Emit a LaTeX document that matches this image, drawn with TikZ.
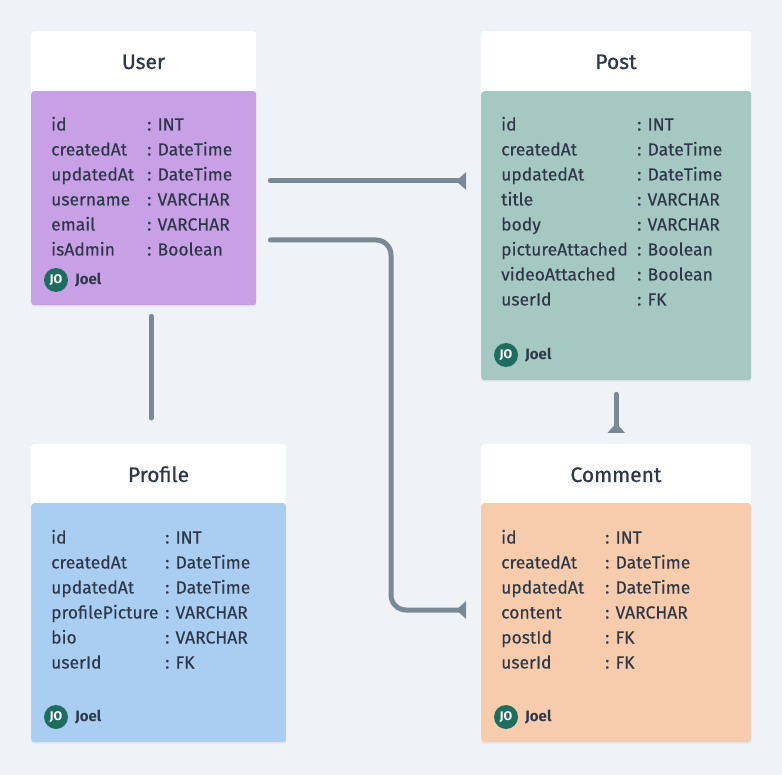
\documentclass[tikz,border=0pt]{standalone}
\usepackage{fontspec}
\setmainfont{Fira Sans}
\newfontfamily\titlefont{Fira Sans}[FakeBold=0.7]
\newfontfamily\fieldfont{Fira Sans}[FakeBold=0.25]
\usetikzlibrary{arrows.meta,calc,shadows}

\definecolor{mybg}{RGB}{239,243,247}
\definecolor{myink}{RGB}{45,55,72}
\definecolor{mylink}{RGB}{122,137,150}
\definecolor{myavatar}{RGB}{30,110,95}
\definecolor{userc}{RGB}{200,160,230}
\definecolor{postc}{RGB}{166,200,194}
\definecolor{profc}{RGB}{170,206,242}
\definecolor{commc}{RGB}{246,204,172}

\begin{document}
\begin{tikzpicture}[x=1pt,y=-1pt,
  card/.style={fill=white,rounded corners=3pt,anchor=north west,inner sep=0pt,
               drop shadow={shadow xshift=0pt,shadow yshift=-1.5pt,opacity=0.12}},
  body/.style={rounded corners=3pt,anchor=north west,inner sep=0pt},
  head/.style={anchor=base,inner sep=0pt,text=myink,font=\titlefont\fontsize{21}{21}\selectfont},
  field/.style={anchor=base west,inner sep=0pt,text=myink,font=\fieldfont\fontsize{17.5}{17.5}\selectfont},
  avatar/.style={circle,fill=myavatar,minimum size=24pt,inner sep=0pt,text=white,
                 font=\fontsize{12.5}{12.5}\selectfont\bfseries},
  author/.style={anchor=west,inner sep=0pt,text=myink,font=\fontsize{15}{15}\selectfont\bfseries},
  link/.style={draw=mylink,line width=5pt,line cap=round},
  tip/.style={-{Triangle[reversed,length=10pt,width=17pt]}}
]
\def\rowh{25}
  \fill[mybg] (0,0) rectangle (782,775);
  \useasboundingbox (0,0) rectangle (782,775);

  % User
  \node[card,minimum width=225pt,minimum height=274pt] (user-card) at (31,31) {};
  \node[body,fill=userc,minimum width=225pt,minimum height=214pt] (user) at (31,91) {};
  \node[head] (user-title) at (143.5,69) {User};
  \foreach \n/\t [count=\i from 0] in {id/INT,createdAt/DateTime,updatedAt/DateTime,
                                       username/VARCHAR,email/VARCHAR,isAdmin/Boolean}
    {
     \node[field] (user-n\i) at (51,{130.5+\rowh*\i}) {\n};
     \node[field] (user-t\i) at (147,{130.5+\rowh*\i}) {: \t};
    }
  \node[avatar] (user-av) at (56,280) {JO};
  \node[author] (user-jo) at (75,280) {Joel};

  % Post
  \node[card,minimum width=270pt,minimum height=349pt] (post-card) at (481,31) {};
  \node[body,fill=postc,minimum width=270pt,minimum height=289pt] (post) at (481,91) {};
  \node[head] (post-title) at (616,69) {Post};
  \foreach \n/\t [count=\i from 0] in {id/INT,createdAt/DateTime,updatedAt/DateTime,
                                       title/VARCHAR,body/VARCHAR,pictureAttached/Boolean,
                                       videoAttached/Boolean,userId/FK}
    {
     \node[field] (post-n\i) at (501,{130.5+\rowh*\i}) {\n};
     \node[field] (post-t\i) at (637,{130.5+\rowh*\i}) {: \t};
    }
  \node[avatar] (post-av) at (506,355) {JO};
  \node[author] (post-jo) at (525,355) {Joel};

  % Profile
  \node[card,minimum width=255pt,minimum height=298pt] (profile-card) at (31,444) {};
  \node[body,fill=profc,minimum width=255pt,minimum height=239pt] (profile) at (31,503) {};
  \node[head] (profile-title) at (158.5,482) {Profile};
  \foreach \n/\t [count=\i from 0] in {id/INT,createdAt/DateTime,updatedAt/DateTime,
                                       profilePicture/VARCHAR,bio/VARCHAR,userId/FK}
    {
     \node[field] (profile-n\i) at (51,{543.5+\rowh*\i}) {\n};
     \node[field] (profile-t\i) at (165,{543.5+\rowh*\i}) {: \t};
    }
  \node[avatar] (profile-av) at (56,717) {JO};
  \node[author] (profile-jo) at (75,717) {Joel};

  % Comment
  \node[card,minimum width=270pt,minimum height=298pt] (comment-card) at (481,444) {};
  \node[body,fill=commc,minimum width=270pt,minimum height=239pt] (comment) at (481,503) {};
  \node[head] (comment-title) at (616,482) {Comment};
  \foreach \n/\t [count=\i from 0] in {id/INT,createdAt/DateTime,updatedAt/DateTime,
                                       content/VARCHAR,postId/FK,userId/FK}
    {
     \node[field] (comment-n\i) at (501,{543.5+\rowh*\i}) {\n};
     \node[field] (comment-t\i) at (605,{543.5+\rowh*\i}) {: \t};
    }
  \node[avatar] (comment-av) at (506,717) {JO};
  \node[author] (comment-jo) at (525,717) {Joel};

  % relations
  \draw[link,tip] ($(user.east |- 0,181)+(14,0)$) -- ($(post.west |- 0,181)+(-15,0)$);
  \draw[link,tip,rounded corners=15pt] ($(user.east |- 0,240)+(14,0)$)
        -| ($(comment.west |- 0,610)+(-90,0)$) -- ($(comment.west |- 0,610)+(-15,0)$);
  \draw[link] ($(user.south west)+(120,11)$) -- ($(profile-card.north west)+(120,-26)$);
  \draw[link,tip] ($(post.south)+(0,14)$) -- ($(comment-card.north)+(0,-11)$);
\end{tikzpicture}
\end{document}
